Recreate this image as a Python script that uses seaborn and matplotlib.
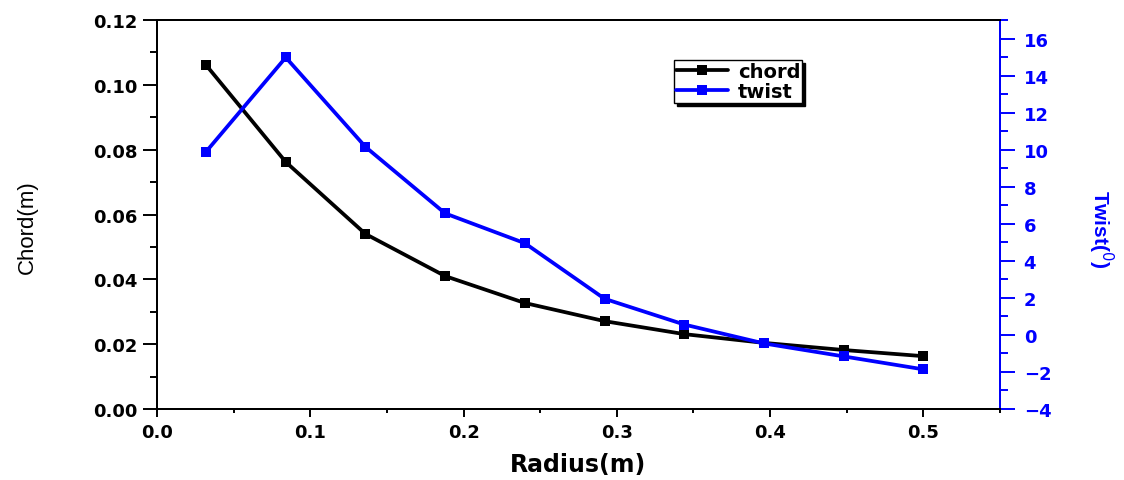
import matplotlib
matplotlib.use("Agg")
import matplotlib.pyplot as plt
from matplotlib.ticker import MultipleLocator, FormatStrFormatter
import seaborn as sns
import pandas as pd

# Blade geometry along the radius
radius = [0.032, 0.084, 0.136, 0.188, 0.240, 0.292, 0.344, 0.396, 0.448, 0.500]
chord = [0.1061, 0.0762, 0.0540, 0.0410, 0.0327, 0.0271, 0.0231, 0.0204, 0.0182, 0.0163]
twist = [9.89, 14.98, 10.15, 6.56, 4.95, 1.95, 0.56, -0.46, -1.16, -1.86]

df = pd.DataFrame({"radius": radius, "chord": chord, "twist": twist})

sns.set_style("ticks")
plt.rcParams["font.family"] = ["DejaVu Sans"]
plt.rcParams.update({"text.color": "black", "axes.labelcolor": "black",
                     "xtick.color": "black", "ytick.color": "black"})

BLUE = "#0000ff"

fig = plt.figure(figsize=(11.24, 4.81), dpi=100)
ax = fig.add_axes([0.1397, 0.1476, 0.7500, 0.8087])
ax2 = ax.twinx()

sns.lineplot(data=df, x="radius", y="chord", ax=ax, color="black", lw=2.7,
             marker="s", markersize=7, markeredgewidth=0, label="chord", legend=False)
sns.lineplot(data=df, x="radius", y="twist", ax=ax2, color=BLUE, lw=2.7,
             marker="s", markersize=7, markeredgewidth=0, label="twist", legend=False)

ax.set_xlim(0, 0.55)
ax.set_ylim(0, 0.12)
ax2.set_ylim(-4, 17)

ax.xaxis.set_major_locator(MultipleLocator(0.1))
ax.xaxis.set_minor_locator(MultipleLocator(0.05))
ax.xaxis.set_major_formatter(FormatStrFormatter("%.1f"))
ax.yaxis.set_major_locator(MultipleLocator(0.02))
ax.yaxis.set_minor_locator(MultipleLocator(0.01))
ax.yaxis.set_major_formatter(FormatStrFormatter("%.2f"))
ax2.yaxis.set_major_locator(MultipleLocator(2))
ax2.yaxis.set_minor_locator(MultipleLocator(1))

for a in (ax, ax2):
    for s in a.spines.values():
        s.set_linewidth(1.4)
        s.set_color("black")
ax2.spines["right"].set_color(BLUE)

ax.tick_params(axis="x", which="major", direction="out", length=6, width=1.4,
               labelsize=13, pad=4, colors="black")
ax.tick_params(axis="x", which="minor", direction="out", length=3, width=1.4)
ax.tick_params(axis="y", which="major", direction="out", length=10, width=1.4,
               labelsize=13, pad=4, colors="black")
ax.tick_params(axis="y", which="minor", direction="out", length=5, width=1.4)
ax2.tick_params(axis="y", which="major", direction="out", length=11, width=1.4,
                labelsize=13, colors=BLUE, pad=6)
ax2.tick_params(axis="y", which="minor", direction="out", length=6, width=1.4,
                colors=BLUE)
for lbl in ax.get_xticklabels() + ax.get_yticklabels() + ax2.get_yticklabels():
    lbl.set_fontweight("bold")

ax.set_xlabel("Radius(m)", fontsize=17, fontweight="bold", va="center")
ax.xaxis.set_label_coords(0.4994, -0.141)
ax.set_ylabel("Chord(m)", fontsize=16, family="Liberation Sans", va="center")
ax.yaxis.set_label_coords(-0.154, 0.47)
ax2.set_ylabel(r"Twist($^{0}$)", fontsize=15, color=BLUE, rotation=270,
               family="Liberation Sans", fontweight="bold", va="center")
ax2.yaxis.set_label_coords(1.119, 0.465)

h1, l1 = ax.get_legend_handles_labels()
h2, l2 = ax2.get_legend_handles_labels()
leg = ax2.legend(h1 + h2, l1 + l2, loc="upper left", bbox_to_anchor=(0.613, 0.897),
                 frameon=True, fancybox=False, shadow={"color": "black", "alpha": 1},
                 prop={"weight": "bold", "size": 14}, handlelength=2.7,
                 borderpad=0.1, labelspacing=0.05, handletextpad=0.5,
                 borderaxespad=0)
leg.get_frame().set_edgecolor("black")
leg.get_frame().set_linewidth(1.0)

fig.savefig("out.png", dpi=100)
